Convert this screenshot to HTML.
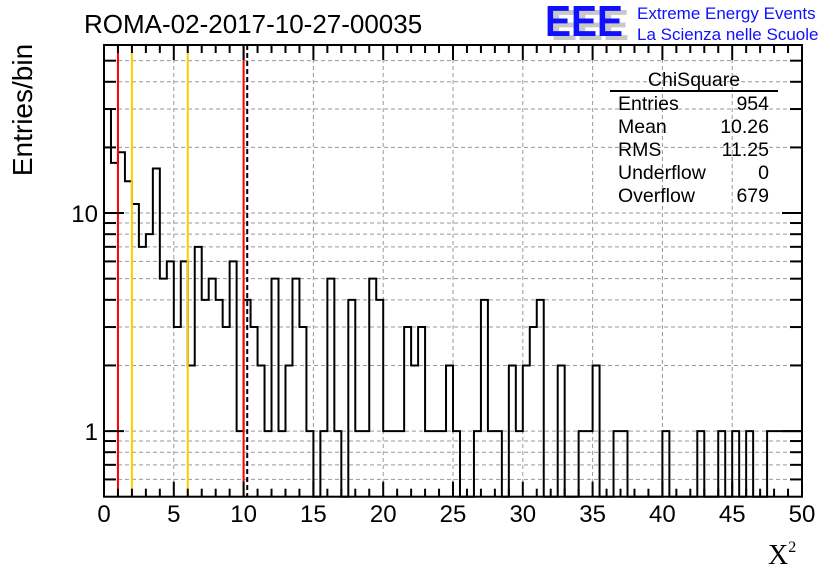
<!DOCTYPE html>
<html><head><meta charset="utf-8"><style>
body{margin:0;background:#fff;}
svg{display:block;font-family:"Liberation Sans",sans-serif;}
</style></head><body>
<svg id="c" width="836" height="572">
<text x="84" y="33" font-size="26">ROMA-02-2017-10-27-00035</text>
<g>
<text x="551" y="40" font-size="44" font-weight="bold" fill="#c8c8c8" textLength="78" lengthAdjust="spacingAndGlyphs">EEE</text>
<text x="545" y="36" font-size="44" font-weight="bold" fill="#1010ff" textLength="78" lengthAdjust="spacingAndGlyphs">EEE</text>
<text x="637" y="19" font-size="17" fill="#1010ff">Extreme Energy Events</text>
<text x="637" y="40" font-size="17" fill="#1010ff">La Scienza nelle Scuole</text>
</g>
<text transform="translate(32,110) rotate(-90)" text-anchor="middle" font-size="28">Entries/bin</text>
<text x="768" y="564" font-size="28" font-family="Liberation Serif,serif">X<tspan font-size="16" dy="-12">2</tspan></text>
<g id="grid"></g><g id="marks"></g><g id="axes"></g>
<g font-size="19.5">
<text x="694" y="86" text-anchor="middle">ChiSquare</text>
<line x1="610" y1="91" x2="778" y2="91" stroke="#000" stroke-width="2"/>
<text x="618" y="110">Entries</text><text x="769" y="110" text-anchor="end">954</text>
<text x="618" y="133">Mean</text><text x="769" y="133" text-anchor="end">10.26</text>
<text x="618" y="156">RMS</text><text x="769" y="156" text-anchor="end">11.25</text>
<text x="618" y="179">Underflow</text><text x="769" y="179" text-anchor="end">0</text>
<text x="618" y="202">Overflow</text><text x="769" y="202" text-anchor="end">679</text>
</g>
</svg>
<script>
const counts=[30,17,19,14,11,7,8,16,5,6,3,6,2,7,4,5,4,3,6,1,4,3,2,1,5,1,2,5,3,1,0,1,5,1,0,4,1,1,5,4,1,1,1,3,2,3,1,1,1,2,1,0,0,1,4,1,1,0,2,1,2,3,4,0,0,2,0,0,1,1,2,0,0,1,1,0,0,0,0,0,1,0,0,0,0,1,0,0,1,0,1,0,1,0,0,1,1,1,1,1];
const binWidth=0.5;
const xTicks=[0,5,10,15,20,25,30,35,40,45,50];
const yTicks=[1,10];
const yMinor=[0.6,0.7,0.8,0.9,2,3,4,5,6,7,8,9,20,30,40,50];
const redLines=[1,10];
const yellowLines=[2,6];
const meanLine=[10.26];
const X0=104,X1=802,Y0=45,Y1=496.7,xmin=0,xmax=50,ymin=0.5,ymax=59;
const sx=v=>X0+(v-xmin)/(xmax-xmin)*(X1-X0);
const sy=v=>Y1-(Math.log10(v)-Math.log10(ymin))/(Math.log10(ymax)-Math.log10(ymin))*(Y1-Y0);
const NS='http://www.w3.org/2000/svg';
function mk(t,a,p){const e=document.createElementNS(NS,t);for(const k in a)e.setAttribute(k,a[k]);p.appendChild(e);return e;}
const grid=document.getElementById('grid'),marks=document.getElementById('marks'),axes=document.getElementById('axes');
xTicks.forEach(v=>{if(v>xmin&&v<xmax){const l=mk('line',{x1:sx(v),x2:sx(v),y1:Y0,y2:Y1,stroke:'#999','stroke-dasharray':'4,3'},grid);

}});
yTicks.concat(yMinor).forEach(v=>{const l=mk('line',{x1:X0,x2:X1,y1:sy(v),y2:sy(v),stroke:'#999','stroke-dasharray':'4,3'},grid);

});
let d='',prev=null;
counts.forEach((c,i)=>{const xa=sx(i*binWidth),xb=sx((i+1)*binWidth);const y=c>0?sy(c):Y1;
if(prev===null)d+=`M${xa},${y}`;else d+=`L${xa},${y}`;d+=`L${xb},${y}`;prev=y;});
const h=mk('path',{d:d,fill:'none',stroke:'#000','stroke-width':2},marks);


redLines.forEach(v=>{const l=mk('line',{x1:sx(v),x2:sx(v),y1:Y0,y2:Y1,stroke:'#ff0000','stroke-width':2},marks);

});
yellowLines.forEach(v=>{const l=mk('line',{x1:sx(v),x2:sx(v),y1:Y0,y2:Y1,stroke:'#ffcc00','stroke-width':2},marks);

});
meanLine.forEach(v=>{const l=mk('line',{x1:sx(v),x2:sx(v),y1:Y0,y2:Y1,stroke:'#000','stroke-width':2,'stroke-dasharray':'5,3'},marks);

});
const f=mk('rect',{x:X0,y:Y0,width:X1-X0,height:Y1-Y0,fill:'none',stroke:'#000','stroke-width':2},axes);


for(let v=xmin;v<=xmax;v++){const L=(v%5===0)?15:8;
mk('line',{x1:sx(v),x2:sx(v),y1:Y1,y2:Y1-L,stroke:'#000','stroke-width':2},axes);
mk('line',{x1:sx(v),x2:sx(v),y1:Y0,y2:Y0+L,stroke:'#000','stroke-width':2},axes);}
xTicks.forEach(v=>{const t=mk('text',{x:sx(v),y:522,'text-anchor':'middle','font-size':24},axes);t.textContent=v;

});
yTicks.forEach(v=>{mk('line',{x1:X0,x2:X0+20,y1:sy(v),y2:sy(v),stroke:'#000','stroke-width':2},axes);
mk('line',{x1:X1,x2:X1-20,y1:sy(v),y2:sy(v),stroke:'#000','stroke-width':2},axes);
const t=mk('text',{x:X0-6,y:sy(v)+9,'text-anchor':'end','font-size':24},axes);t.textContent=v;

});
yMinor.forEach(v=>{mk('line',{x1:X0,x2:X0+12,y1:sy(v),y2:sy(v),stroke:'#000','stroke-width':2},axes);
mk('line',{x1:X1,x2:X1-12,y1:sy(v),y2:sy(v),stroke:'#000','stroke-width':2},axes);});
</script>
</body></html>
